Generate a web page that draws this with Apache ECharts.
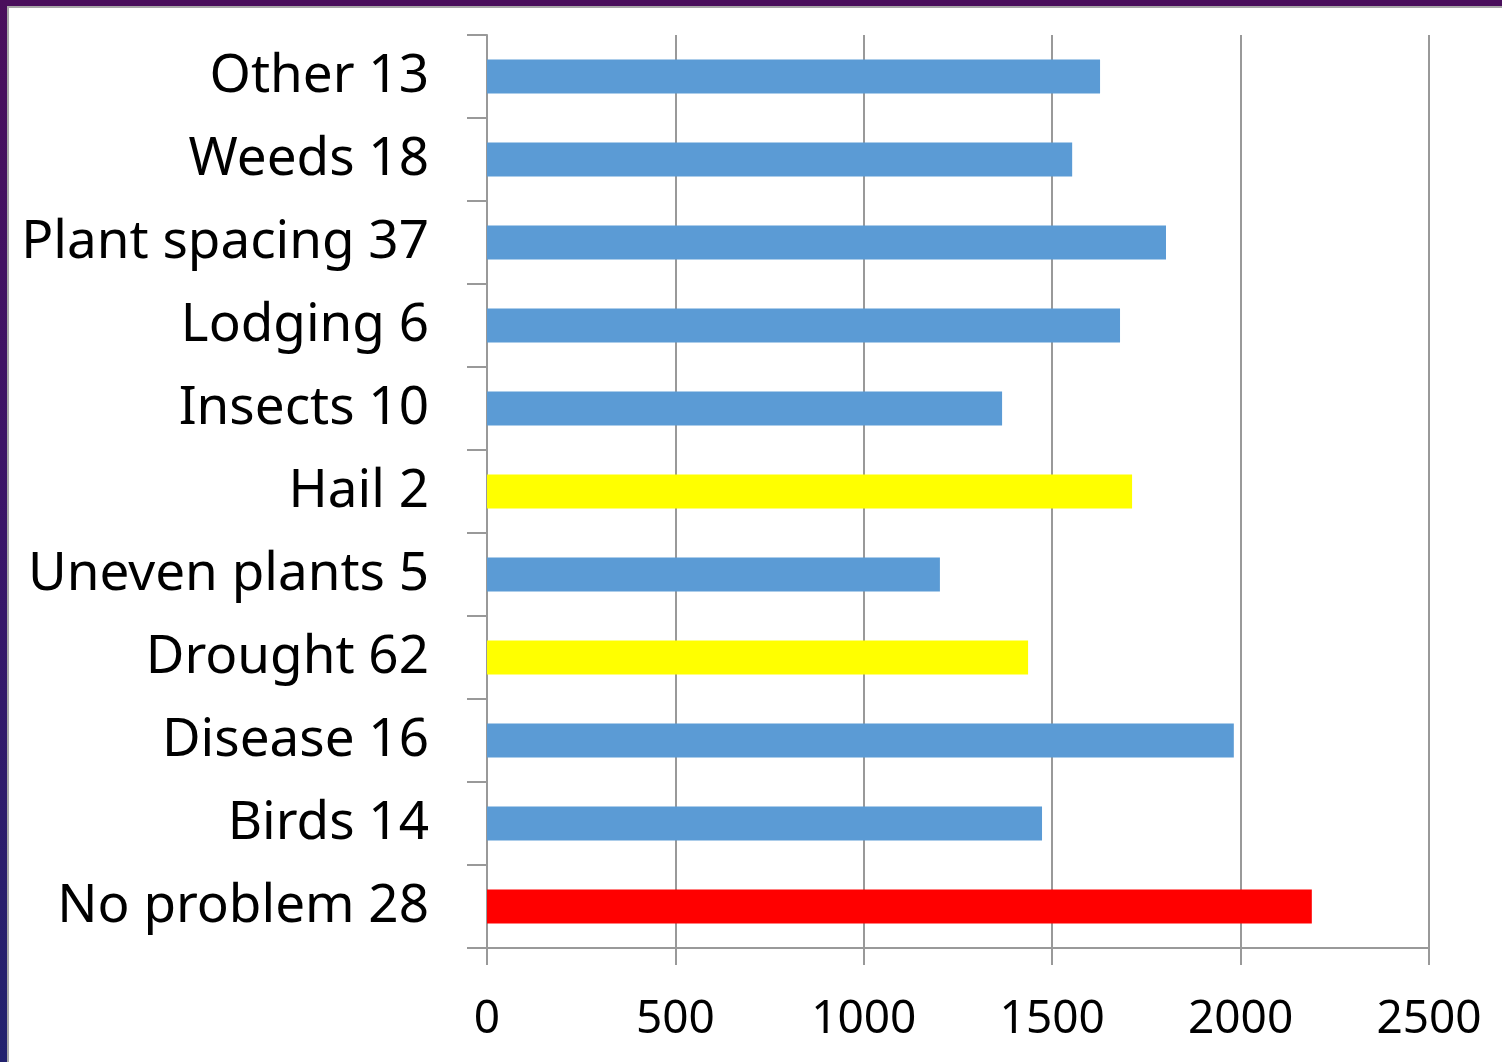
<!DOCTYPE html>
<html>
<head>
<meta charset="utf-8">
<script src="https://cdn.jsdelivr.net/npm/echarts@6/dist/echarts.min.js"></script>
<style>
    html, body { margin: 0; padding: 0; }
    body {
        width: 1502px;
        height: 1062px;
        position: relative;
        overflow: hidden;
        background: linear-gradient(180deg, #4a0f5c 0%, #3a1568 50%, #22226e 100%);
    }
    .sheet {
        position: absolute;
        left: 7px;
        top: 6px;
        right: 0;
        bottom: 0;
        background: #fff;
        border-left: 2px solid #a8a8a8;
        border-top: 2px solid #a8a8a8;
    }
    #chart {
        position: absolute;
        left: 0;
        top: 0;
        width: 1502px;
        height: 1062px;
    }
</style>
</head>
<body>
<div class="sheet"></div>
<div id="chart"></div>
<script>
    // top to bottom, as shown
    const categories = ['Other 13', 'Weeds 18', 'Plant spacing 37', 'Lodging 6', 'Insects 10',
        'Hail 2', 'Uneven plants 5', 'Drought 62', 'Disease 16', 'Birds 14', 'No problem 28'];
    const values = [1627, 1553, 1802, 1680, 1367, 1712, 1202, 1436, 1982, 1473, 2189];
    const barColors = ['#5b9bd5', '#5b9bd5', '#5b9bd5', '#5b9bd5', '#5b9bd5',
        '#ffff00', '#5b9bd5', '#ffff00', '#5b9bd5', '#5b9bd5', '#ff0000'];
    const xTicks = [0, 500, 1000, 1500, 2000, 2500];

    const gray = '#999999';
    const chart = echarts.init(document.getElementById('chart'), null, {renderer: 'canvas'});
    chart.setOption({
        backgroundColor: 'transparent',
        animation: false,
        grid: {
            left: 487,
            right: 73,
            top: 35,
            bottom: 114,
            containLabel: false
        },
        xAxis: {
            type: 'value',
            min: xTicks[0],
            max: xTicks[xTicks.length - 1],
            interval: xTicks[1] - xTicks[0],
            axisLine: {
                show: true,
                lineStyle: {color: gray, width: 2}
            },
            axisTick: {
                show: true,
                length: 17,
                lineStyle: {color: gray, width: 2}
            },
            axisLabel: {
                margin: 49,
                color: '#000',
                fontFamily: 'Noto Sans',
                fontSize: 46,
                formatter: v => String(v)
            },
            splitLine: {
                show: true,
                lineStyle: {color: gray, width: 2}
            }
        },
        yAxis: {
            type: 'category',
            inverse: true,
            data: categories,
            axisLine: {
                show: true,
                lineStyle: {color: gray, width: 2}
            },
            axisTick: {
                show: true,
                length: 20,
                lineStyle: {color: gray, width: 2}
            },
            axisLabel: {
                margin: 58,
                color: '#000',
                fontFamily: 'Noto Sans',
                fontSize: 53,
                padding: [10, 0, 0, 0]
            },
            splitLine: {show: false}
        },
        series: [
            {
                type: 'bar',
                barWidth: 34,
                data: values.map((v, i) => ({value: v, itemStyle: {color: barColors[i]}})),
                z: 1
            }
        ]
    });
</script>
</body>
</html>
